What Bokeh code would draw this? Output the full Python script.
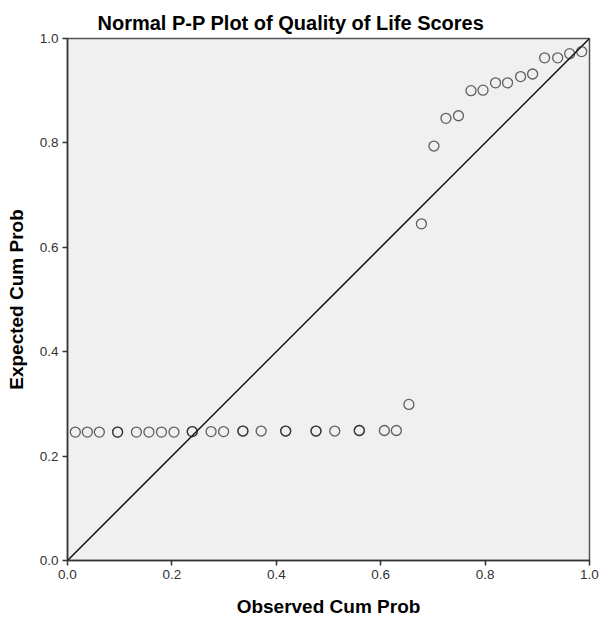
from bokeh.plotting import figure
from bokeh.models import Range1d, FixedTicker, Title, CustomJSTickFormatter
from bokeh.embed import file_html
from bokeh.resources import INLINE

# Observed cumulative probability (x) and expected cumulative probability (y)
observed = [0.015, 0.038, 0.061, 0.096, 0.096, 0.132, 0.156, 0.180, 0.204,
            0.239, 0.239, 0.275, 0.299, 0.336, 0.336, 0.371, 0.418, 0.418,
            0.476, 0.476, 0.512, 0.559, 0.559, 0.607, 0.630, 0.654,
            0.678, 0.702, 0.725, 0.749, 0.773, 0.796, 0.820, 0.843,
            0.868, 0.891, 0.914, 0.939, 0.962, 0.985]
expected = [0.246, 0.246, 0.246, 0.246, 0.246, 0.246, 0.246, 0.246, 0.246,
            0.247, 0.247, 0.247, 0.247, 0.248, 0.248, 0.248, 0.248, 0.248,
            0.248, 0.248, 0.248, 0.249, 0.249, 0.249, 0.249, 0.299,
            0.645, 0.794, 0.847, 0.852, 0.900, 0.901, 0.915, 0.915,
            0.927, 0.932, 0.963, 0.963, 0.971, 0.975]
ref_line = [0.0, 1.0]
tick_values = [0.0, 0.2, 0.4, 0.6, 0.8, 1.0]

FONT = "Liberation Sans"

p = figure(width=600, height=620, output_backend="svg", toolbar_location=None,
           x_range=Range1d(0, 1), y_range=Range1d(0, 1),
           min_border_left=67, min_border_right=11, min_border_top=38,
           min_border_bottom=60)
p.title = Title(text="Normal P-P Plot of Quality of Life Scores", align="left",
                offset=30,
                text_font=FONT, text_font_size="20px", text_font_style="bold",
                text_color="#000000", standoff=9)
p.background_fill_color = "#f0f0f0"
p.border_fill_color = "#ffffff"
p.outline_line_color = "#555555"
p.outline_line_width = 1.5
p.grid.visible = False

fmt = CustomJSTickFormatter(code="return tick.toFixed(1);")
for ax in (p.xaxis, p.yaxis):
    ax.ticker = FixedTicker(ticks=tick_values)
    ax.formatter = fmt
    ax.major_label_text_font = FONT
    ax.major_label_text_font_size = "13.5px"
    ax.major_label_text_color = "#333333"
    ax.major_label_standoff = 4
    ax.axis_label_text_font = FONT
    ax.axis_label_text_font_size = "19px"
    ax.axis_label_text_font_style = "bold"
    ax.axis_label_text_color = "#000000"
    ax.major_tick_in = 0
    ax.major_tick_out = 5
    ax.minor_tick_line_color = None
    ax.axis_line_color = "#333333"
    ax.axis_line_width = 1.5
    ax.major_tick_line_color = "#333333"
    ax.major_tick_line_width = 1.5

p.xaxis.axis_label = "Observed Cum Prob"
p.yaxis.axis_label = "Expected Cum Prob"
p.xaxis.axis_label_standoff = 14
p.yaxis.axis_label_standoff = 10

p.line(ref_line, ref_line, line_color="#111111", line_width=1.5)
p.scatter(observed, expected, marker="circle", size=10, fill_color=None,
          line_color="#222222", line_alpha=0.7, line_width=1.3)

open("out.html", "w").write(file_html(p, INLINE))
